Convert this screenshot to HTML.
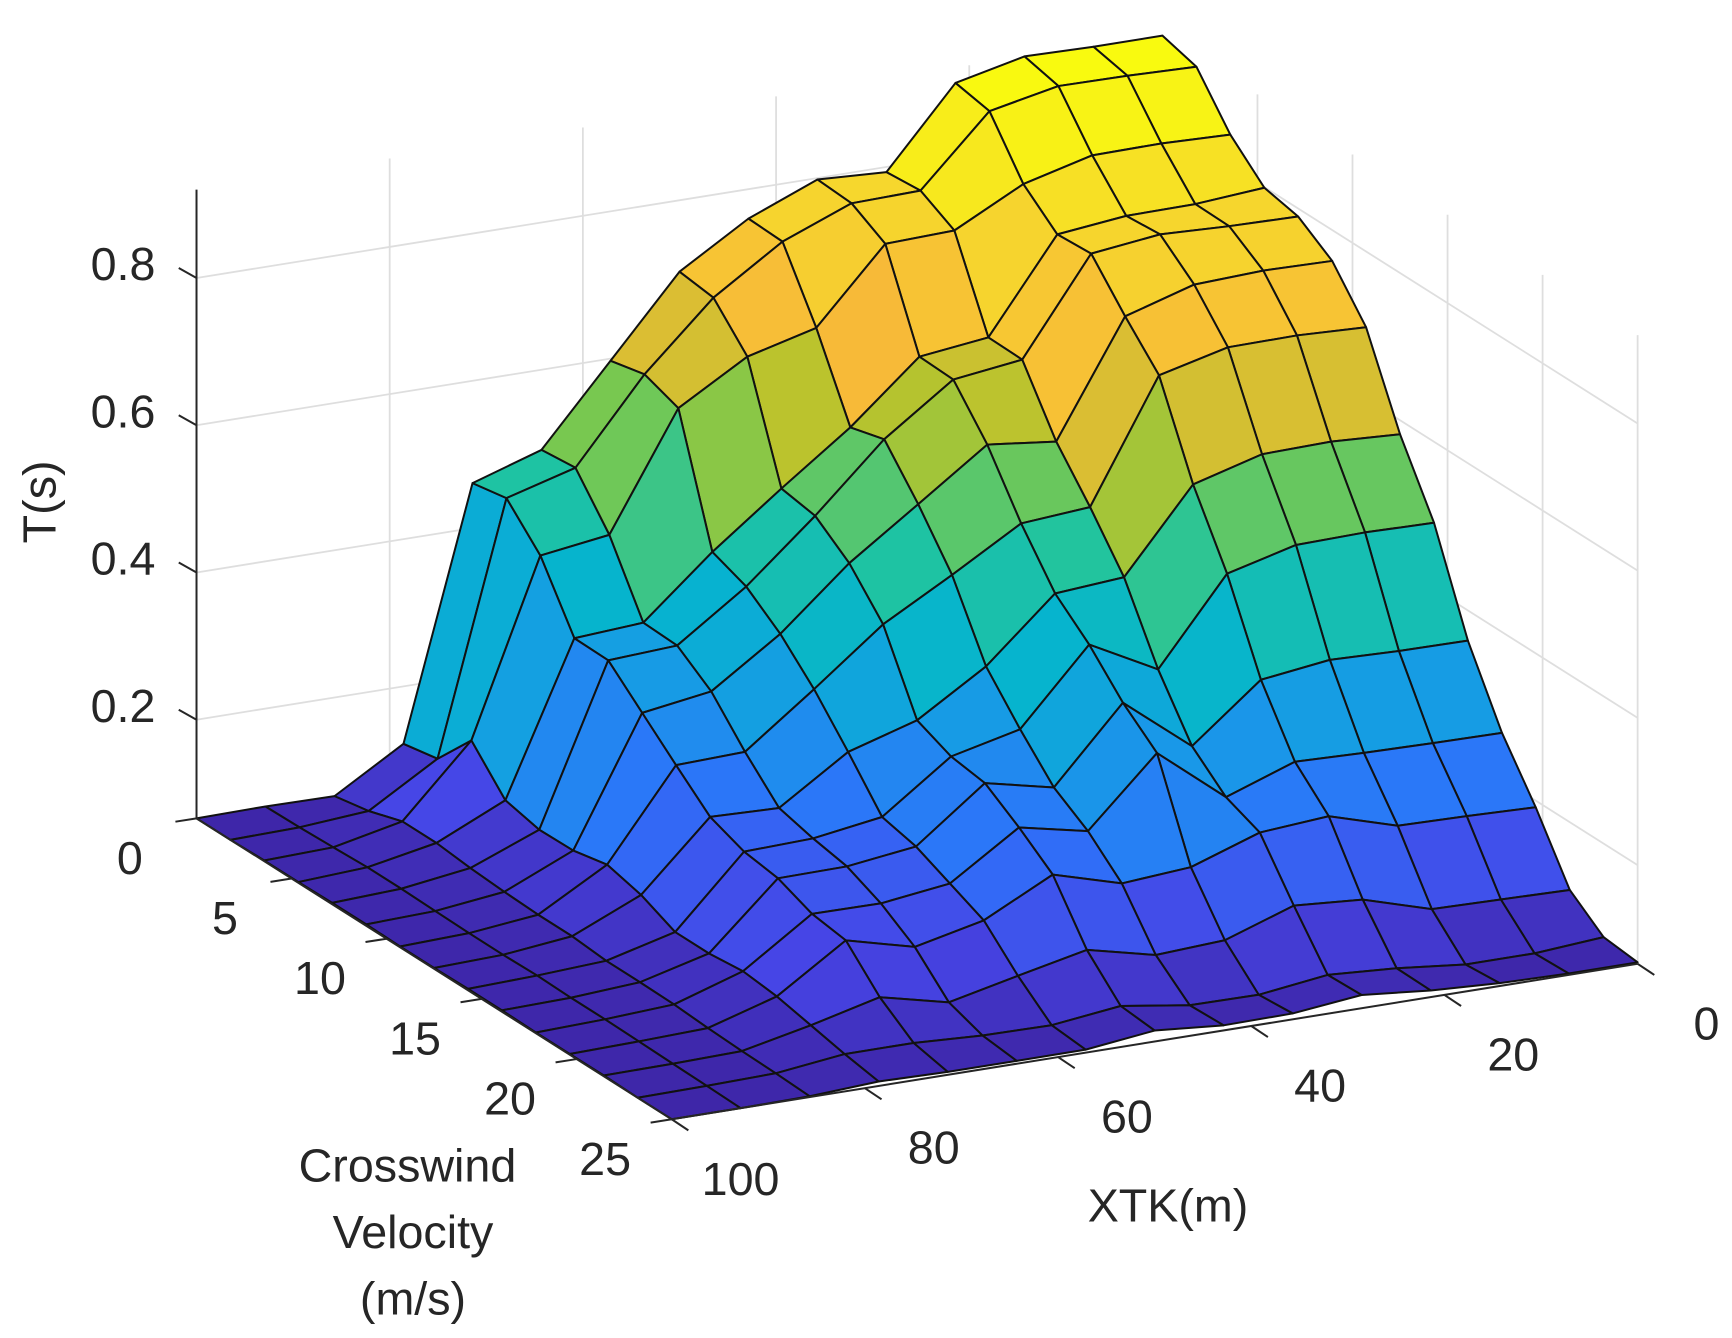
<!DOCTYPE html>
<html><head><meta charset="utf-8"><title>T(s) surface</title>
<style>
html,body{margin:0;padding:0;background:#fff;}
svg{display:block;}
text{font-family:"Liberation Sans",Arial,sans-serif;fill:#262626;}
</style></head>
<body>
<svg id="chart" xmlns="http://www.w3.org/2000/svg" width="1732" height="1338" viewBox="0 0 1560 1205" preserveAspectRatio="none">
<g id="grid"></g>
<g id="surface"></g>
<g id="axes"></g>
<text x="0" y="0" font-size="42" text-anchor="middle" transform="translate(50,452) rotate(-90)">T(s)</text>
<text x="1052" y="1100" font-size="42" text-anchor="middle">XTK(m)</text>
<g>
<text x="367" y="1064" font-size="42" text-anchor="middle">Crosswind</text>
<text x="372" y="1124" font-size="42" text-anchor="middle">Velocity</text>
<text x="372" y="1184" font-size="42" text-anchor="middle">(m/s)</text>
</g>
</svg>
<script>
const xtkValues=[0,7.14,14.29,21.43,28.57,35.71,42.86,50,57.14,64.29,71.43,78.57,85.71,92.86,100];
const cwValues=[0,1.79,3.57,5.36,7.14,8.93,10.71,12.5,14.29,16.07,17.86,19.64,21.43,23.21,25];
const zTicks=[0.2,0.4,0.6,0.8];
const zTickLabels=["0.2","0.4","0.6","0.8"];
const xtkTicks=[0,20,40,60,80,100];
const xtkTickLabels=["0","20","40","60","80","100"];
const cwTicks=[0,5,10,15,20,25];
const cwTickLabels=["0","5","10","15","20","25"];
const zLimits=[0.066,0.92];
// tValues[row = crosswind index][col = XTK index ascending]
const tValues=[
[0.918,0.918,0.920,0.899,0.793,0.798,0.760,0.703,0.597,0.491,0.461,0.122,0.066,0.067,0.066],
[0.905,0.908,0.909,0.890,0.797,0.795,0.758,0.697,0.608,0.496,0.470,0.131,0.075,0.068,0.066],
[0.842,0.845,0.844,0.820,0.772,0.769,0.670,0.646,0.591,0.434,0.421,0.185,0.090,0.070,0.067],
[0.799,0.792,0.791,0.781,0.656,0.645,0.564,0.496,0.425,0.344,0.338,0.133,0.090,0.072,0.067],
[0.789,0.791,0.795,0.784,0.655,0.643,0.577,0.488,0.407,0.342,0.337,0.122,0.085,0.072,0.068],
[0.758,0.760,0.756,0.728,0.573,0.584,0.518,0.453,0.372,0.309,0.295,0.123,0.082,0.071,0.068],
[0.697,0.701,0.700,0.677,0.513,0.506,0.451,0.399,0.326,0.256,0.253,0.133,0.080,0.070,0.067],
[0.581,0.586,0.584,0.558,0.447,0.440,0.356,0.298,0.270,0.209,0.212,0.121,0.080,0.070,0.067],
[0.490,0.492,0.490,0.466,0.351,0.400,0.300,0.278,0.211,0.197,0.194,0.100,0.076,0.071,0.068],
[0.359,0.360,0.363,0.351,0.276,0.350,0.250,0.271,0.200,0.188,0.187,0.100,0.076,0.070,0.068],
[0.263,0.264,0.266,0.269,0.236,0.311,0.220,0.240,0.179,0.167,0.168,0.105,0.075,0.070,0.067],
[0.191,0.194,0.196,0.224,0.217,0.185,0.178,0.205,0.158,0.137,0.161,0.100,0.072,0.069,0.067],
[0.108,0.110,0.112,0.140,0.147,0.115,0.110,0.132,0.112,0.091,0.113,0.090,0.070,0.068,0.067],
[0.073,0.066,0.066,0.076,0.082,0.070,0.071,0.085,0.074,0.075,0.080,0.080,0.069,0.067,0.066],
[0.068,0.068,0.070,0.075,0.084,0.074,0.073,0.081,0.070,0.070,0.070,0.072,0.067,0.066,0.066]
];

const NS="http://www.w3.org/2000/svg";
const ORIGIN=[177,737], UVEC=[870,-140], VVEC=[428,271], ZSCALE=663;
function uOf(xtk){return (100-xtk)/100;}
function vOf(cw){return cw/25;}
function project(xtk,cw,z){
  const u=uOf(xtk), v=vOf(cw);
  return [ORIGIN[0]+UVEC[0]*u+VVEC[0]*v, ORIGIN[1]+UVEC[1]*u+VVEC[1]*v-ZSCALE*(z-zLimits[0])];
}
function depthOf(xtk,cw,z){
  const u=uOf(xtk), v=vOf(cw);
  return (UVEC[1]*u+VVEC[1]*v)+0.1135*ZSCALE*(z-zLimits[0]);
}
const cmapStops=[[0,62,38,168],[0.1,70,69,230],[0.2,45,115,250],[0.3,25,152,232],[0.4,6,180,206],[0.5,32,196,160],[0.6,120,200,80],[0.66,185,195,45],[0.76,247,186,56],[0.86,246,216,44],[1,249,251,14]];
function parula(t){
  t=Math.max(0,Math.min(1,t));
  for(let s=1;s<cmapStops.length;s++){
    const a=cmapStops[s-1], b=cmapStops[s];
    if(t<=b[0]){const f=(t-a[0])/(b[0]-a[0]);
      return "rgb("+[1,2,3].map(c=>Math.round(a[c]+(b[c]-a[c])*f)).join(",")+")";}
  }
  return "rgb(249,251,14)";
}
function mk(tag,attrs,parent){
  const e=document.createElementNS(NS,tag);
  for(const k in attrs) e.setAttribute(k,attrs[k]);
  parent.appendChild(e); return e;
}
const grid=document.getElementById("grid");
const surf=document.getElementById("surface");
const axes=document.getElementById("axes");
const gridStyle={stroke:"#dedede","stroke-width":"1.6",fill:"none"};
function line(p,q,style,parent,name){
  const e=mk("line",Object.assign({x1:p[0],y1:p[1],x2:q[0],y2:q[1]},style),parent);
  
  
  return e;
}
zTicks.forEach(z=>{
  line(project(100,0,z),project(0,0,z),gridStyle,grid,"back-wall-gridline");
  line(project(0,0,z),project(0,25,z),gridStyle,grid,"side-wall-gridline");
});
xtkTicks.forEach(x=>{ if(x<100) line(project(x,0,zLimits[0]),project(x,0,zLimits[1]),gridStyle,grid,"back-wall-vertical-gridline"); });
cwTicks.forEach(c=>{ if(c>0) line(project(0,c,zLimits[0]),project(0,c,zLimits[1]),gridStyle,grid,"side-wall-vertical-gridline"); });

const faces=[];
for(let j=0;j<cwValues.length-1;j++){
  for(let k=0;k<xtkValues.length-1;k++){
    const corners=[[k,j],[k+1,j],[k+1,j+1],[k,j+1]];
    let zs=0, d=0, zmx=-1;
    const pts=corners.map(([kk,jj])=>{const z=tValues[jj][kk]; zs+=z; if(z>zmx) zmx=z; d+=depthOf(xtkValues[kk],cwValues[jj],z); return project(xtkValues[kk],cwValues[jj],z);});
    faces.push({pts,zc:0.5*(zs/4)+0.5*zmx,d:d/4,j,k});
  }
}
faces.sort((a,b)=>a.d-b.d);
faces.forEach(f=>{
  const t=(f.zc-zLimits[0])/(zLimits[1]-zLimits[0]);
  const p=mk("polygon",{points:f.pts.map(q=>q[0].toFixed(1)+","+q[1].toFixed(1)).join(" "),fill:parula(t),stroke:"#111","stroke-width":"1.8","stroke-linejoin":"round"},surf);
  
  
});

const axStyle={stroke:"#262626","stroke-width":"1.8"};
line(project(100,0,zLimits[0]),project(100,0,zLimits[1]),axStyle,axes,"z-axis-line");
line(project(100,0,zLimits[0]),project(100,25,zLimits[0]),axStyle,axes,"crosswind-axis-line");
line(project(100,25,zLimits[0]),project(0,25,zLimits[0]),axStyle,axes,"xtk-axis-line");
zTicks.forEach((z,i)=>{
  const p=project(100,0,z);
  line(p,[p[0]-16,p[1]-9],axStyle,axes,"z-tick");
  const t=mk("text",{x:p[0]-37,y:p[1]+2,"font-size":"42","text-anchor":"end"},axes);
  t.textContent=zTickLabels[i];
  
  
});
cwTicks.forEach((c,i)=>{
  const p=project(100,c,zLimits[0]);
  line(p,[p[0]-19,p[1]+3],axStyle,axes,"crosswind-tick");
  const t=mk("text",{x:p[0]-60,y:p[1]+50,"font-size":"42","text-anchor":"middle"},axes);
  t.textContent=cwTickLabels[i];
  
  
});
xtkTicks.forEach((x,i)=>{
  const p=project(x,25,zLimits[0]);
  line(p,[p[0]+15,p[1]+10],axStyle,axes,"xtk-tick");
  const t=mk("text",{x:p[0]+62,y:p[1]+68,"font-size":"42","text-anchor":"middle"},axes);
  t.textContent=xtkTickLabels[i];
  
  
});
</script>
</body></html>
